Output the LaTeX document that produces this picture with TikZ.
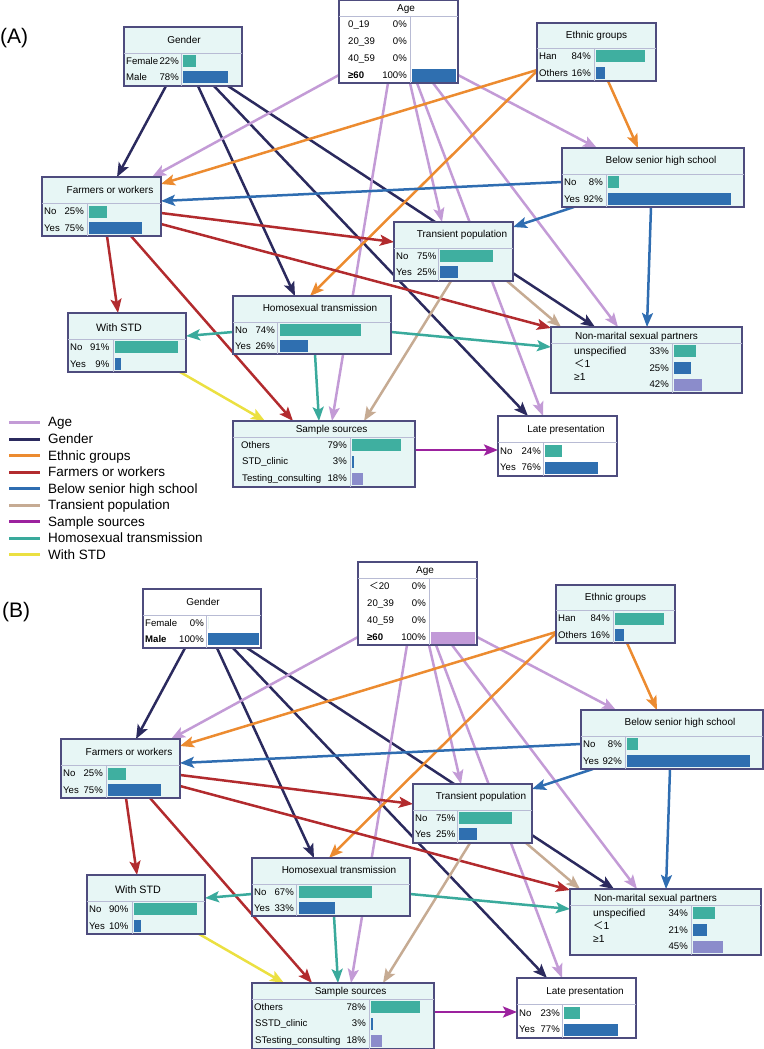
\documentclass[tikz,border=0pt]{standalone}
\usepackage{fontspec}
\setmainfont{Liberation Sans}
\newfontfamily\cjk{Noto Sans CJK SC}
\usetikzlibrary{arrows.meta,backgrounds,calc}
\definecolor{cyanfill}{HTML}{E7F6F5}
\definecolor{boxline}{HTML}{4E4C7E}
\definecolor{divline}{HTML}{B8BBD4}
\definecolor{barteal}{HTML}{3FAFA0}
\definecolor{barblue}{HTML}{2F6FB0}
\definecolor{barlav}{HTML}{8B8CCB}
\definecolor{barpurple}{HTML}{C29AD8}
\definecolor{cAge}{HTML}{C39BD6}
\definecolor{cGen}{HTML}{2B2A5E}
\definecolor{cEth}{HTML}{EC8B30}
\definecolor{cFarm}{HTML}{B22B2E}
\definecolor{cBel}{HTML}{2F6DB1}
\definecolor{cTra}{HTML}{C6AB93}
\definecolor{cSam}{HTML}{9C229E}
\definecolor{cHom}{HTML}{3AAA9C}
\definecolor{cStd}{HTML}{EBE041}
\tikzset{
  bnbox/.style={draw=boxline, line width=1.2pt, rectangle, anchor=north west, inner sep=0pt, outer sep=0pt},
  divider/.style={draw=divline, line width=0.9pt},
  txt/.style={inner sep=0pt, text height=7pt, text depth=0pt, font=\fontsize{9.6}{12}\selectfont},
  lab/.style={txt, anchor=west},
  pct/.style={txt, anchor=east},
  ttl/.style={inner sep=0pt, text height=7.2pt, text depth=0pt, font=\fontsize{10}{12}\selectfont, anchor=center},
  edge/.style={line width=2.5pt, -{Stealth[length=14pt,width=11pt,inset=3pt]}},
  eAge/.style={edge, draw=cAge},
  eGen/.style={edge, draw=cGen},
  eEth/.style={edge, draw=cEth},
  eFarm/.style={edge, draw=cFarm},
  eBel/.style={edge, draw=cBel},
  eTra/.style={edge, draw=cTra},
  eSam/.style={edge, draw=cSam},
  eHom/.style={edge, draw=cHom},
  eStd/.style={edge, draw=cStd},
  legline/.style={line width=3pt},
  legtext/.style={anchor=west, inner sep=0pt, text height=9.7pt, text depth=0pt, font=\fontsize{13.5}{16}\selectfont},
  paneltag/.style={anchor=west, inner sep=0pt, font=\fontsize{21}{24}\selectfont},
}
% edge helper: style, node1, dx1, dy1, node2, dx2, dy2 (offsets from north west corners)
\newcommand\bnedge[7]{\draw[#1] ([shift={(#3,#4)}]#2.north west) -- ([shift={(#6,#7)}]#5.north west);}
\newcommand\bnbar[4]{\fill[#1] (#2,#3-6) rectangle ++(#4,12);}

\newcommand\valsA{%
  \def\gfill{cyanfill}\def\gcol{57}\def\gFp{22\%}\def\gFb{12.5}\def\gMl{Male}\def\gMp{78\%}\def\gMb{44.5}%
  \def\ageA{0\_19}\def\ageAx{9}\def\agebar{barblue}%
  \def\hNp{74\%}\def\hNb{81.4}\def\hYp{26\%}\def\hYb{28.6}%
  \def\wNp{91\%}\def\wNb{63.5}\def\wYp{9\%}\def\wYb{6.3}%
  \def\nUp{33\%}\def\nUb{21.8}\def\nLp{25\%}\def\nLb{16.5}\def\nGp{42\%}\def\nGb{27.7}%
  \def\sOp{79\%}\def\sOb{49}\def\sCl{STD\_clinic}\def\sTl{Testing\_consulting}\def\slx{8}%
  \def\lNp{24\%}\def\lNb{16.8}\def\lYp{76\%}\def\lYb{53.2}%
}
\newcommand\valsB{%
  \def\gfill{white}\def\gcol{63}\def\gFp{0\%}\def\gFb{0}\def\gMl{\textbf{Male}}\def\gMp{100\%}\def\gMb{51}%
  \def\ageA{{\cjk ＜}20}\def\ageAx{11}\def\agebar{barpurple}%
  \def\hNp{67\%}\def\hNb{73.3}\def\hYp{33\%}\def\hYb{36.7}%
  \def\wNp{90\%}\def\wNb{63.3}\def\wYp{10\%}\def\wYb{7}%
  \def\nUp{34\%}\def\nUb{22}\def\nLp{21\%}\def\nLb{13.7}\def\nGp{45\%}\def\nGb{30}%
  \def\sOp{78\%}\def\sOb{48.5}\def\sCl{SSTD\_clinic}\def\sTl{STesting\_consulting}\def\slx{2}%
  \def\lNp{23\%}\def\lNb{15.7}\def\lYp{77\%}\def\lYb{54}%
}

\newcommand\panel[1]{%
% ---------- Gender
\begin{scope}[shift={(124,27)}]
  \node[bnbox, fill=\gfill, minimum width=118pt, minimum height=59pt] (#1gender) at (0,0) {};
  \draw[divider] (0,26) -- (118,26) (\gcol,26) -- (\gcol,59);
  \node[ttl] at (60,13) {Gender};
  \node[lab] at (2,34) {Female}; \node[pct] at (\gcol-2,34) {\gFp};
  \node[lab] at (2,50) {\gMl};   \node[pct] at (\gcol-2,50) {\gMp};
  \bnbar{barteal}{\gcol+2}{34}{\gFb}
  \bnbar{barblue}{\gcol+2}{50}{\gMb}
\end{scope}
% ---------- Age
\begin{scope}[shift={(339,0)}]
  \node[bnbox, fill=white, minimum width=119pt, minimum height=83pt] (#1age) at (0,0) {};
  \draw[divider] (0,16) -- (119,16) (71,16) -- (71,83);
  \node[ttl] at (67,8) {Age};
  \node[lab] at (\ageAx,24) {\ageA}; \node[pct] at (68,24) {0\%};
  \node[lab] at (9,41) {20\_39}; \node[pct] at (68,41) {0\%};
  \node[lab] at (9,58) {40\_59}; \node[pct] at (68,58) {0\%};
  \node[lab] at (9,75) {\textbf{≥60}}; \node[pct] at (68,75) {100\%};
  \bnbar{\agebar}{73}{75.5}{44}
\end{scope}
% ---------- Ethnic groups
\begin{scope}[shift={(537,23)}]
  \node[bnbox, fill=cyanfill, minimum width=119pt, minimum height=58pt] (#1ethnic) at (0,0) {};
  \draw[divider] (0,25) -- (119,25) (57,25) -- (57,58);
  \node[ttl] at (59.5,12) {Ethnic groups};
  \node[lab] at (2,33) {Han};    \node[pct] at (54,33) {84\%};
  \node[lab] at (2,50) {Others}; \node[pct] at (54,50) {16\%};
  \bnbar{barteal}{59}{33.5}{48.7}
  \bnbar{barblue}{59}{50}{9.3}
\end{scope}
% ---------- Below senior high school
\begin{scope}[shift={(562,148)}]
  \node[bnbox, fill=cyanfill, minimum width=182pt, minimum height=59pt] (#1below) at (0,0) {};
  \draw[divider] (0,26) -- (182,26) (44,26) -- (44,59);
  \node[ttl] at (99,12) {Below senior high school};
  \node[lab] at (2,34) {No};  \node[pct] at (41,34) {8\%};
  \node[lab] at (2,51) {Yes}; \node[pct] at (41,51) {92\%};
  \bnbar{barteal}{46}{34}{10.7}
  \bnbar{barblue}{46}{51}{123}
\end{scope}
% ---------- Farmers or workers
\begin{scope}[shift={(42,177)}]
  \node[bnbox, fill=cyanfill, minimum width=119pt, minimum height=59pt] (#1farm) at (0,0) {};
  \draw[divider] (0,26) -- (119,26) (45,26) -- (45,59);
  \node[ttl] at (68,12.5) {Farmers or workers};
  \node[lab] at (2,34) {No};  \node[pct] at (42,34) {25\%};
  \node[lab] at (2,51) {Yes}; \node[pct] at (42,51) {75\%};
  \bnbar{barteal}{47}{34.5}{17.5}
  \bnbar{barblue}{47}{51}{52.5}
\end{scope}
% ---------- Transient population
\begin{scope}[shift={(394,222)}]
  \node[bnbox, fill=cyanfill, minimum width=119pt, minimum height=59pt] (#1trans) at (0,0) {};
  \draw[divider] (0,26) -- (119,26) (44,26) -- (44,59);
  \node[ttl] at (68,11.5) {Transient population};
  \node[lab] at (2,33.5) {No};  \node[pct] at (42.5,33.5) {75\%};
  \node[lab] at (2,50) {Yes};   \node[pct] at (42.5,50) {25\%};
  \bnbar{barteal}{46}{33.5}{53}
  \bnbar{barblue}{46}{50}{17.7}
\end{scope}
% ---------- Homosexual transmission
\begin{scope}[shift={(233,296)}]
  \node[bnbox, fill=cyanfill, minimum width=158pt, minimum height=58pt] (#1homo) at (0,0) {};
  \draw[divider] (0,26) -- (158,26) (44,26) -- (44,58);
  \node[ttl] at (87,11.5) {Homosexual transmission};
  \node[lab] at (2,33.5) {No};  \node[pct] at (42,33.5) {\hNp};
  \node[lab] at (2,50) {Yes};   \node[pct] at (42,50) {\hYp};
  \bnbar{barteal}{46.5}{33.5}{\hNb}
  \bnbar{barblue}{46.5}{50}{\hYb}
\end{scope}
% ---------- With STD
\begin{scope}[shift={(68,313)}]
  \node[bnbox, fill=cyanfill, minimum width=118pt, minimum height=59pt] (#1wstd) at (0,0) {};
  \draw[divider] (0,26) -- (118,26) (45,26) -- (45,59);
  \node[ttl, font=\fontsize{10.7}{12}\selectfont] at (51,15) {With STD};
  \node[lab] at (2,34) {No};  \node[pct] at (41.5,34) {\wNp};
  \node[lab] at (2,50.5) {Yes}; \node[pct] at (41.5,50.5) {\wYp};
  \bnbar{barteal}{46.5}{34}{\wNb}
  \bnbar{barblue}{46.5}{50.5}{\wYb}
\end{scope}
% ---------- Non-marital sexual partners
\begin{scope}[shift={(551,327)}]
  \node[bnbox, fill=cyanfill, minimum width=191pt, minimum height=66pt] (#1nonm) at (0,0) {};
  \draw[divider] (0,16) -- (191,16) (121,16) -- (121,66);
  \node[ttl] at (85.5,8.5) {Non-marital sexual partners};
  \node[lab, font=\fontsize{10.3}{12}\selectfont] at (23,23.5) {unspecified};
  \node[lab, font=\fontsize{10.3}{12}\selectfont] at (23,36.5) {{\cjk ＜}1};
  \node[lab, font=\fontsize{10.3}{12}\selectfont] at (23,49.5) {≥1};
  \node[pct] at (118,24) {\nUp};
  \node[pct] at (118,40.5) {\nLp};
  \node[pct] at (118,57) {\nGp};
  \bnbar{barteal}{123}{24.3}{\nUb}
  \bnbar{barblue}{123}{41.3}{\nLb}
  \bnbar{barlav}{123}{57.7}{\nGb}
\end{scope}
% ---------- Sample sources
\begin{scope}[shift={(233,421)}]
  \node[bnbox, fill=cyanfill, minimum width=182pt, minimum height=66pt] (#1samp) at (0,0) {};
  \draw[divider] (0,16) -- (182,16) (117,16) -- (117,66);
  \node[ttl] at (98.6,7.5) {Sample sources};
  \node[lab] at (\slx,23.5) {Others};  \node[pct] at (114,23.5) {\sOp};
  \node[lab] at (\slx+1,40) {\sCl};    \node[pct] at (114,40) {3\%};
  \node[lab] at (\slx+1,57) {\sTl};    \node[pct] at (114,57) {18\%};
  \bnbar{barteal}{119}{24.3}{\sOb}
  \bnbar{barblue}{119}{40.5}{2}
  \bnbar{barlav}{119}{57.7}{10.7}
\end{scope}
% ---------- Late presentation
\begin{scope}[shift={(498,416)}]
  \node[bnbox, fill=white, minimum width=119pt, minimum height=60pt] (#1late) at (0,0) {};
  \draw[divider] (0,26) -- (119,26) (45,26) -- (45,60);
  \node[ttl] at (68,13) {Late presentation};
  \node[lab] at (2,35) {No};  \node[pct] at (43,35) {\lNp};
  \node[lab] at (2,51) {Yes}; \node[pct] at (43,51) {\lYp};
  \bnbar{barteal}{47}{35}{\lNb}
  \bnbar{barblue}{47}{51.5}{\lYb}
\end{scope}
% ---------- connectors
\begin{pgfonlayer}{background}
  % Gender
  \bnedge{eGen}{#1gender}{42}{59}{#1farm}{75}{0}
  \bnedge{eGen}{#1gender}{74}{59}{#1homo}{62}{0}
  \bnedge{eGen}{#1gender}{90}{59}{#1late}{30}{0}
  \bnedge{eGen}{#1gender}{104}{59}{#1nonm}{44}{0}
  % Age
  \bnedge{eAge}{#1age}{0}{75}{#1farm}{110}{0}
  \bnedge{eAge}{#1age}{49}{83}{#1samp}{99}{0}
  \bnedge{eAge}{#1age}{71}{83}{#1trans}{48}{0}
  \bnedge{eAge}{#1age}{78}{83}{#1late}{45}{0}
  \bnedge{eAge}{#1age}{94}{83}{#1nonm}{67}{0}
  \bnedge{eAge}{#1age}{119}{75}{#1below}{35}{0}
  % Ethnic groups
  \bnedge{eEth}{#1ethnic}{0}{47}{#1farm}{119}{7}
  \bnedge{eEth}{#1ethnic}{0}{48}{#1homo}{77}{0}
  \bnedge{eEth}{#1ethnic}{71}{58}{#1below}{76}{0}
  % Farmers or workers
  \bnedge{eFarm}{#1farm}{119}{36}{#1trans}{0}{20}
  \bnedge{eFarm}{#1farm}{119}{47}{#1nonm}{0}{1}
  \bnedge{eFarm}{#1farm}{65}{59}{#1wstd}{50}{0}
  \bnedge{eFarm}{#1farm}{89}{59}{#1samp}{60}{0}
  % Below senior high school
  \bnedge{eBel}{#1below}{0}{34}{#1farm}{119}{24}
  \bnedge{eBel}{#1below}{12}{59}{#1trans}{119}{5}
  \bnedge{eBel}{#1below}{89}{59}{#1nonm}{96}{0}
  % Transient population
  \bnedge{eTra}{#1trans}{57}{59}{#1samp}{131}{0}
  \bnedge{eTra}{#1trans}{113}{59}{#1nonm}{10}{0}
  % Homosexual transmission
  \bnedge{eHom}{#1homo}{0}{36}{#1wstd}{118}{23}
  \bnedge{eHom}{#1homo}{82}{58}{#1samp}{86}{0}
  \bnedge{eHom}{#1homo}{158}{36}{#1nonm}{0}{20}
  % With STD
  \bnedge{eStd}{#1wstd}{112}{59}{#1samp}{32}{0}
  % Sample sources
  \bnedge{eSam}{#1samp}{182}{29}{#1late}{0}{34}
\end{pgfonlayer}
}

\begin{document}
\begin{tikzpicture}[x=1pt, y=-1pt]
  \useasboundingbox (0,0) rectangle (763,1049);
  \node[paneltag] (tagA) at (0,38) {(A)};
  \node[paneltag] (tagB) at (2,612) {(B)};
  \valsA\panel{a}
  \begin{scope}[shift={(19,562)}]
    \valsB\panel{b}
  \end{scope}
  % legend
  \foreach \col/\txt/\yy [count=\i] in {cAge/Age/422, cGen/Gender/439, cEth/Ethnic groups/455.5,
      cFarm/Farmers or workers/472, cBel/Below senior high school/488.5, cTra/Transient population/505,
      cSam/Sample sources/521.5, cHom/Homosexual transmission/538, cStd/With STD/554.5} {
    \draw[legline, draw=\col] (9,\yy) -- (40,\yy);
    \node[legtext] (leg\i) at (48,\yy) {\txt};
  }
\end{tikzpicture}
\end{document}
